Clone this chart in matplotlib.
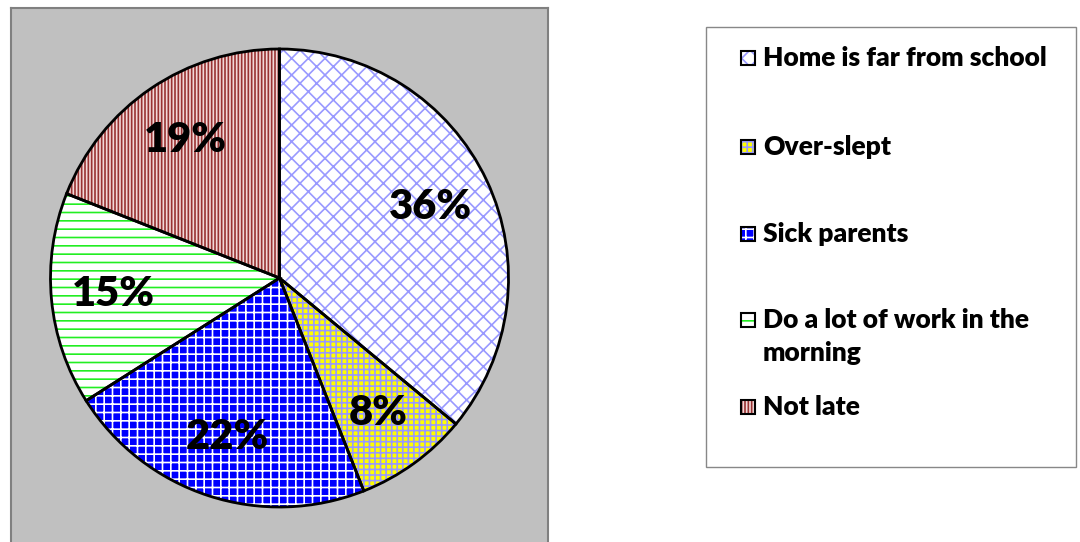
import matplotlib.pyplot as plt
from matplotlib.patches import Rectangle

# ── data ──────────────────────────────────────────
CATEGORIES = ["Home is far from school", "Over-slept", "Sick parents",
              "Do a lot of work in the\nmorning", "Not late"]
VALUES = [36, 8, 22, 15, 19]

# face colour, hatch colour, hatch
FACES   = ["#FFFFFF", "#FFFF00", "#0000FF", "#FFFFFF", "#F2D9D9"]
HATCHC  = ["#9999FF", "#9999FF", "#FFFFFF", "#22EE22", "#993333"]
HATCHES = ["xx", "+++", "++", "--", "|||||"]

W, H = 1080, 542
plt.rcParams["font.family"] = ["Lato", "DejaVu Sans"]
plt.rcParams["hatch.linewidth"] = 1.2

fig = plt.figure(figsize=(W / 100, H / 100), dpi=100)
fig.patch.set_facecolor("white")

# plot area (grey box)
ax = fig.add_axes([11 / W, -6 / H, 537 / W, 540 / H])

wedges, _, autotexts = ax.pie(
    VALUES, startangle=90, counterclock=False,
    autopct="%.0f%%", pctdistance=0.73,
    wedgeprops=dict(linewidth=0),
    textprops=dict(fontsize=30, fontweight="heavy", color="black"))
for w, fc, hc, hp in zip(wedges, FACES, HATCHC, HATCHES):
    w.set_facecolor(fc)
    w.set_edgecolor(hc)
    w.set_hatch(hp)
# black outlines on top
outl, _ = ax.pie(VALUES, startangle=90, counterclock=False,
                 colors=["none"] * len(VALUES),
                 wedgeprops=dict(edgecolor="black", linewidth=2))
for t in autotexts:
    t.set_zorder(5)

ax.set_frame_on(True)
ax.set_facecolor("#C0C0C0")
for sp in ax.spines.values():
    sp.set_visible(True)
    sp.set_edgecolor("#808080")
    sp.set_linewidth(1.5)

r_px = 229
ax.set_aspect("auto")
ax.set_xlim(-537 / 2 / r_px, 537 / 2 / r_px)
ax.set_ylim(-540 / 2 / r_px, 540 / 2 / r_px)
ax.set_xticks([])
ax.set_yticks([])

# ── legend (drawn by hand) ────────────────────────
fig.patches.append(Rectangle((706 / W, 1 - 467 / H), 370 / W, 440 / H,
                             transform=fig.transFigure, facecolor="white",
                             edgecolor="#888888", linewidth=1))
rows_y = [58, 147, 234, 320, 407]
for cat, fc, hc, hp, y in zip(CATEGORIES, FACES, HATCHC, HATCHES, rows_y):
    fig.patches.append(Rectangle((741 / W, 1 - (y + 7) / H), 14 / W, 14 / H,
                                 transform=fig.transFigure, facecolor=fc,
                                 edgecolor=hc, hatch=hp, linewidth=0))
    fig.patches.append(Rectangle((741 / W, 1 - (y + 7) / H), 14 / W, 14 / H,
                                 transform=fig.transFigure, facecolor="none",
                                 edgecolor="black", linewidth=1.5))
    fig.text(763 / W, 1 - (y - 12) / H, cat, fontsize=19, fontweight="heavy",
             va="top", ha="left", linespacing=1.45)

fig.savefig("out.png", dpi=100)
